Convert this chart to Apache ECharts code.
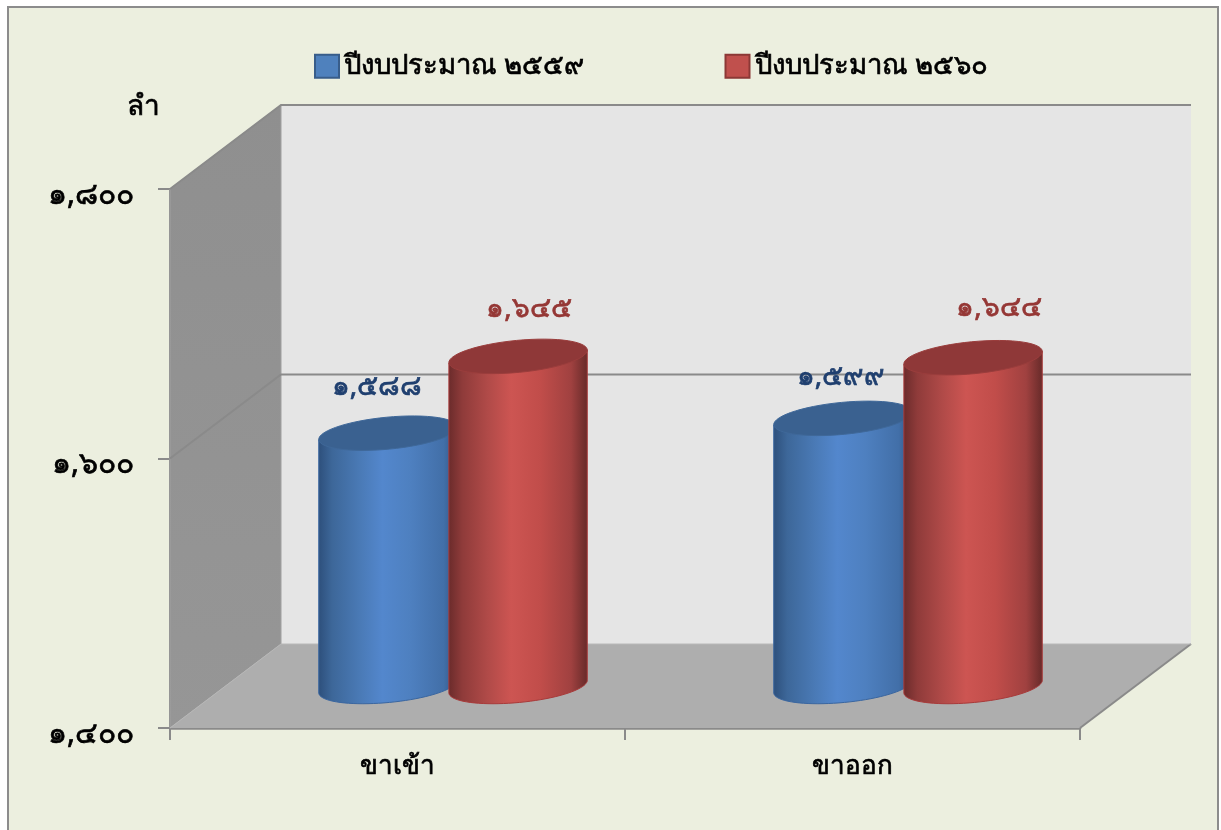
<!DOCTYPE html>
<html>
<head>
<meta charset="utf-8">
<style>
  html, body { margin: 0; padding: 0; background: #fff; overflow: hidden; }
  #chart { width: 1221px; height: 830px; }
</style>
<script src="https://cdn.jsdelivr.net/npm/echarts@6/dist/echarts.min.js"></script>
</head>
<body>
<div id="chart"></div>
<script>
// ข้อมูล
const categories = ["ขาเข้า", "ขาออก"];
const year2559 = [1588, 1599];
const year2560 = [1645, 1644];
const yearNames = ["ปีงบประมาณ ๒๕๕๙", "ปีงบประมาณ ๒๕๖๐"];
const yTicks = [1400, 1600, 1800];

// ระยะเลื่อนป้ายค่าจากกึ่งกลางฝาทรงกระบอก
const labelNudge2559 = [[-11, -46], [-2, -41]];
const labelNudge2560 = [[11, -47], [26, -50]];

const FONT = '"Noto Sans", "DejaVu Sans", sans-serif';
const thaiDigits = "๐๑๒๓๔๕๖๗๘๙";
function toThai(n) {
  const s = String(n).replace(/\d/g, (d) => thaiDigits[d]);
  return s.slice(0, 1) + "," + s.slice(1);
}

// มุมมองสามมิติของกล่องกราฟ
const DEPTH_X = 111;
const DEPTH_Y = -84;
const CYL_LIFT = -41.5;
const RX = 69.5;
const RY = 16;
const TILT = 0.095;

function ellipsePoint(cx, cy, a) {
  const x = RX * Math.cos(a);
  const y = RY * Math.sin(a);
  return [
    cx + x * Math.cos(TILT) + y * Math.sin(TILT),
    cy - x * Math.sin(TILT) + y * Math.cos(TILT),
  ];
}

function renderWalls(params, api) {
  const g = params.coordSys;
  const left = g.x, right = g.x + g.width, top = g.y, bottom = g.y + g.height;
  const children = [
    { // ผนังหลัง
      type: "rect",
      shape: { x: left + DEPTH_X, y: top + DEPTH_Y, width: g.width, height: g.height },
      style: { fill: "#e5e5e5" },
    },
    { // ผนังข้าง
      type: "polygon",
      shape: { points: [[left, top], [left + DEPTH_X, top + DEPTH_Y], [left + DEPTH_X, bottom + DEPTH_Y], [left, bottom]] },
      style: {
        fill: { type: "linear", x: 0, y: 0, x2: 0, y2: 1, colorStops: [{ offset: 0, color: "#8f8f8f" }, { offset: 1, color: "#969696" }] },
        stroke: "#a0a0a0", lineWidth: 1,
      },
    },
    { // พื้น
      type: "polygon",
      shape: { points: [[left, bottom], [left + DEPTH_X, bottom + DEPTH_Y], [right + DEPTH_X, bottom + DEPTH_Y], [right, bottom]] },
      style: { fill: "#aeaeae" },
    },
    {
      type: "polyline",
      shape: { points: [[right, bottom], [right + DEPTH_X, bottom + DEPTH_Y]] },
      style: { stroke: "#8a8a8a", lineWidth: 2, fill: null },
    },
  ];
  yTicks.forEach((v) => {
    const y = api.coord([0, v])[1];
    const pts = [[left, y], [left + DEPTH_X, y + DEPTH_Y], [right + DEPTH_X, y + DEPTH_Y]];
    if (v === yTicks[0]) {
      children.push({ type: "polyline", shape: { points: pts }, style: { stroke: "#b8b8b8", lineWidth: 1, fill: null } });
    } else {
      children.push({ type: "polyline", shape: { points: pts }, style: { stroke: "#8a8a8a", lineWidth: 2, fill: null } });
    }
  });
  return { type: "group", children: children };
}

function makeCylinder(side, look, nudge) {
  return function (params, api) {
    const cat = api.value(0);
    const val = api.value(1);
    const band = api.size([1, 0])[0];
    const shift = side * band * 0.143 + DEPTH_X / 2;
    const base = api.coord([cat, yTicks[0]]);
    const top = api.coord([cat, val]);
    const cx = base[0] + shift;
    const by = base[1] + CYL_LIFT;
    const ty = top[1] + CYL_LIFT;

    const pts = [ellipsePoint(cx, ty, Math.PI)];
    for (let i = 0; i <= 40; i++) {
      pts.push(ellipsePoint(cx, by, Math.PI - (i / 40) * Math.PI));
    }
    pts.push(ellipsePoint(cx, ty, 0));

    return {
      type: "group",
      children: [
        {
          type: "polygon",
          shape: { points: pts },
          style: {
            fill: { type: "linear", x: 0, y: 0, x2: 1, y2: 0, colorStops: look.body },
            stroke: look.edge, lineWidth: 1,
          },
        },
        {
          type: "polygon",
          shape: { points: Array.from({ length: 60 }, (_, i) => ellipsePoint(cx, ty, (i / 60) * 2 * Math.PI)) },
          style: { fill: look.cap, stroke: look.capEdge, lineWidth: 1 },
        },
        {
          type: "text",
          style: {
            text: toThai(val),
            x: cx + nudge[cat][0],
            y: ty + nudge[cat][1],
            fill: look.label,
            stroke: look.label,
            lineWidth: 0.7,
            font: "28px " + FONT,
            textAlign: "center",
            textVerticalAlign: "middle",
          },
        },
      ],
    };
  };
}

const blueLook = {
  body: [
    { offset: 0, color: "#2d4f7b" },
    { offset: 0.1, color: "#3d6799" },
    { offset: 0.3, color: "#4a7ab6" },
    { offset: 0.46, color: "#5387cd" },
    { offset: 0.66, color: "#4e80c0" },
    { offset: 0.9, color: "#426fa8" },
    { offset: 1, color: "#2f5380" },
  ],
  edge: "#3a66a0",
  cap: "#3a6190",
  capEdge: "#3f6899",
  label: "#1f3f6f",
};
const redLook = {
  body: [
    { offset: 0, color: "#6a2b2b" },
    { offset: 0.1, color: "#8f3b3a" },
    { offset: 0.28, color: "#b04a48" },
    { offset: 0.45, color: "#cd5552" },
    { offset: 0.66, color: "#c14d4a" },
    { offset: 0.88, color: "#a04140" },
    { offset: 1, color: "#662a29" },
  ],
  edge: "#a83a3a",
  cap: "#8f3838",
  capEdge: "#9a3d3c",
  label: "#953735",
};

const labelInk = { textBorderColor: "#000", textBorderWidth: 0.7 };

const chart = echarts.init(document.getElementById("chart"), null, { renderer: "canvas" });
chart.setOption({
  animation: false,
  backgroundColor: "#ffffff",
  textStyle: { fontFamily: FONT },
  graphic: [{
    type: "rect",
    z: -1,
    shape: { x: 8, y: 7, width: 1210, height: 860 },
    style: { fill: "#ecefdf", stroke: "#8c8c8c", lineWidth: 2 },
  }],
  legend: {
    data: yearNames,
    left: 314,
    top: 52,
    padding: 0,
    itemWidth: 24,
    itemHeight: 23,
    itemGap: 140,
    icon: "rect",
    textStyle: Object.assign({ fontSize: 27.5, color: "#000", fontFamily: FONT, padding: [8, 0, 0, 0] }, labelInk),
  },
  grid: { left: 170, right: 141, top: 189, bottom: 102 },
  xAxis: {
    type: "category",
    data: categories,
    boundaryGap: true,
    axisLine: { lineStyle: { color: "#8a8a8a", width: 2.5 } },
    axisTick: { show: true, length: 12, lineStyle: { color: "#8a8a8a", width: 2 } },
    axisLabel: Object.assign({ fontSize: 26, color: "#000", margin: 26 }, labelInk),
  },
  yAxis: {
    type: "value",
    min: 1400,
    max: 1800,
    interval: 200,
    name: "ลำ",
    nameLocation: "end",
    nameGap: 68,
    nameTextStyle: Object.assign({ fontSize: 28, color: "#000", align: "right", padding: [0, 10, 0, 0] }, labelInk),
    axisLine: { show: true, lineStyle: { color: "#8a8a8a", width: 2 } },
    axisTick: { show: true, length: 12, lineStyle: { color: "#8a8a8a", width: 2 } },
    splitLine: { show: false },
    axisLabel: Object.assign({ fontSize: 30, color: "#000", margin: 36, verticalAlign: "top", lineHeight: 12, formatter: (v) => toThai(v) }, labelInk),
  },
  series: [
    {
      name: "walls",
      type: "custom",
      silent: true,
      z: 1,
      renderItem: renderWalls,
      data: [[0, yTicks[0]]],
      encode: { x: 0, y: 1 },
    },
    {
      name: yearNames[0],
      type: "custom",
      z: 3,
      clip: false,
      itemStyle: { color: "#4f81bd", borderColor: "#385d8a", borderWidth: 2 },
      renderItem: makeCylinder(-1, blueLook, labelNudge2559),
      data: categories.map((c, i) => [i, year2559[i]]),
      encode: { x: 0, y: 1 },
    },
    {
      name: yearNames[1],
      type: "custom",
      z: 4,
      clip: false,
      itemStyle: { color: "#c0504d", borderColor: "#8c3836", borderWidth: 2 },
      renderItem: makeCylinder(1, redLook, labelNudge2560),
      data: categories.map((c, i) => [i, year2560[i]]),
      encode: { x: 0, y: 1 },
    },
  ],
});
</script>
</body>
</html>
